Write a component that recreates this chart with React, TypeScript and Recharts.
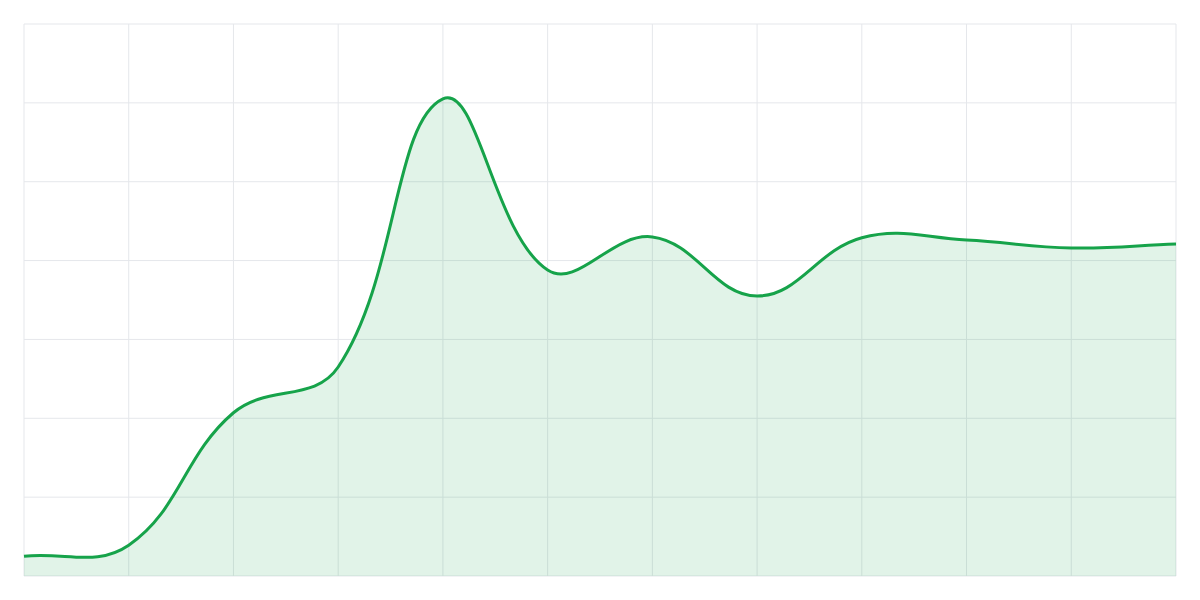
import React from 'react';
import { AreaChart, Area, XAxis, YAxis, CartesianGrid } from 'recharts';

// one value per vertical grid line
const points = ['P1', 'P2', 'P3', 'P4', 'P5', 'P6', 'P7', 'P8', 'P9', 'P10', 'P11', 'P12'];
const values = [2.5, 3.9, 20.7, 26.5, 60.5, 38.8, 43.0, 35.5, 42.9, 42.6, 41.6, 42.1];
const yTicks = [0, 10, 20, 30, 40, 50, 60, 70];

const data = points.map((name, i) => ({ name, value: values[i] }));

// tension spline (control points scaled by neighbour distances), as a d3-style curve factory
const TENSION = 0.4;

const tensionCurve = (context: any) => {
    let pts: [number, number][] = [];
    let line = NaN;

    const draw = () => {
        const n = pts.length;
        if (n === 0) return;
        const [x0, y0] = pts[0];
        if (line) context.lineTo(x0, y0);
        else context.moveTo(x0, y0);
        if (n === 1) return;
        if (n === 2) {
            context.lineTo(pts[1][0], pts[1][1]);
            return;
        }
        const prevCp: [number, number][] = [];
        const nextCp: [number, number][] = [];
        for (let i = 0; i < n; i++) {
            const cur = pts[i];
            const prev = pts[i - 1] || cur;
            const next = pts[i + 1] || cur;
            const d01 = Math.hypot(cur[0] - prev[0], cur[1] - prev[1]);
            const d12 = Math.hypot(next[0] - cur[0], next[1] - cur[1]);
            let s01 = d01 / (d01 + d12);
            let s12 = d12 / (d01 + d12);
            if (!isFinite(s01)) s01 = 0;
            if (!isFinite(s12)) s12 = 0;
            const fa = TENSION * s01;
            const fb = TENSION * s12;
            prevCp.push([cur[0] - fa * (next[0] - prev[0]), cur[1] - fa * (next[1] - prev[1])]);
            nextCp.push([cur[0] + fb * (next[0] - prev[0]), cur[1] + fb * (next[1] - prev[1])]);
        }
        for (let i = 1; i < n; i++) {
            const c1 = nextCp[i - 1];
            const c2 = prevCp[i];
            context.bezierCurveTo(c1[0], c1[1], c2[0], c2[1], pts[i][0], pts[i][1]);
        }
    };

    return {
        areaStart() {
            line = 0;
        },
        areaEnd() {
            line = NaN;
        },
        lineStart() {
            pts = [];
        },
        lineEnd() {
            draw();
            if (line || (line !== 0 && pts.length === 1)) context.closePath();
            line = 1 - line;
        },
        point(x: number, y: number) {
            pts.push([+x, +y]);
        },
    };
};

const App: React.FC = () => {
    return (
        <div style={{ position: 'absolute', left: 0, top: 0, width: 1200, height: 600, background: '#ffffff' }}>
            <AreaChart
                width={1200}
                height={600}
                data={data}
                margin={{ top: 24, right: 24, left: 24, bottom: 24 }}
            >
                <CartesianGrid stroke="#e5e7eb" strokeWidth={1} />
                <XAxis dataKey="name" hide />
                <YAxis domain={[0, 70]} ticks={yTicks} hide />
                <Area
                    type={tensionCurve as any}
                    dataKey="value"
                    stroke="#16a34a"
                    strokeWidth={3}
                    fill="#16a34a"
                    fillOpacity={0.13}
                    isAnimationActive={false}
                    dot={false}
                    activeDot={false}
                />
            </AreaChart>
        </div>
    );
};

export default App;
